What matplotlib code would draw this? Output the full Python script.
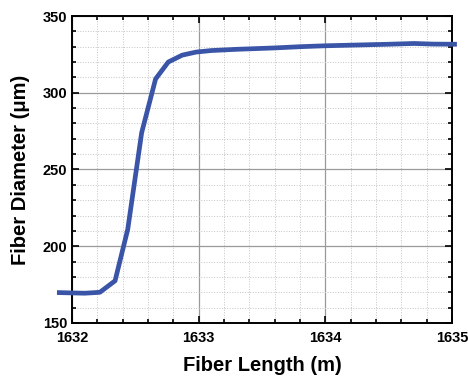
import matplotlib
matplotlib.use("Agg")
import matplotlib.pyplot as plt
from matplotlib.ticker import MultipleLocator

length_m = [1631.90, 1632.10, 1632.22, 1632.34, 1632.44, 1632.55, 1632.66, 1632.76,
            1632.87, 1632.98, 1633.10, 1633.30, 1633.60, 1633.80, 1634.00, 1634.30,
            1634.50, 1634.70, 1634.85, 1635.02]
diameter_um = [169.8, 169.4, 170.0, 177.5, 211.0, 274.0, 309.0, 320.0,
               324.5, 326.5, 327.5, 328.3, 329.2, 330.0, 330.6, 331.2,
               331.6, 332.1, 331.7, 331.6]
x_ticks = [1632, 1633, 1634, 1635]
y_ticks = [150, 200, 250, 300, 350]

plt.rcParams['font.family'] = ['Liberation Sans', 'DejaVu Sans']
fig = plt.figure(figsize=(4.68, 3.76), dpi=100)
ax = fig.add_axes([72/468, 1-323/376, (452-72)/468, (323-16)/376])

ax.plot(length_m, diameter_um, color='#3a55a8', lw=3.4, clip_on=False, zorder=5)
ax.set_xlim(1632, 1635)
ax.set_ylim(150, 350)
ax.set_xticks(x_ticks)
ax.set_yticks(y_ticks)
ax.xaxis.set_minor_locator(MultipleLocator(0.2))
ax.yaxis.set_minor_locator(MultipleLocator(10))
ax.grid(which='major', color='#9a9a9a', lw=0.9, ls='-')
ax.grid(which='minor', color='#c4c4c4', lw=0.7, ls=':')
ax.set_axisbelow(True)
ax.tick_params(which='both', direction='in', top=True, right=True, width=1.2)
ax.tick_params(which='major', length=5)
ax.tick_params(which='minor', length=3)
ax.tick_params(axis='x', pad=6)
for lab in ax.get_xticklabels() + ax.get_yticklabels():
    lab.set_fontweight('bold')
    lab.set_fontsize(10.5)
for s in ax.spines.values():
    s.set_linewidth(1.4)
ax.set_xlabel('Fiber Length (m)', fontsize=14.5, fontweight='bold', labelpad=8)
ax.set_ylabel('Fiber Diameter (μm)', fontsize=14.5, fontweight='bold', labelpad=9)
fig.savefig('out.png', dpi=100)
